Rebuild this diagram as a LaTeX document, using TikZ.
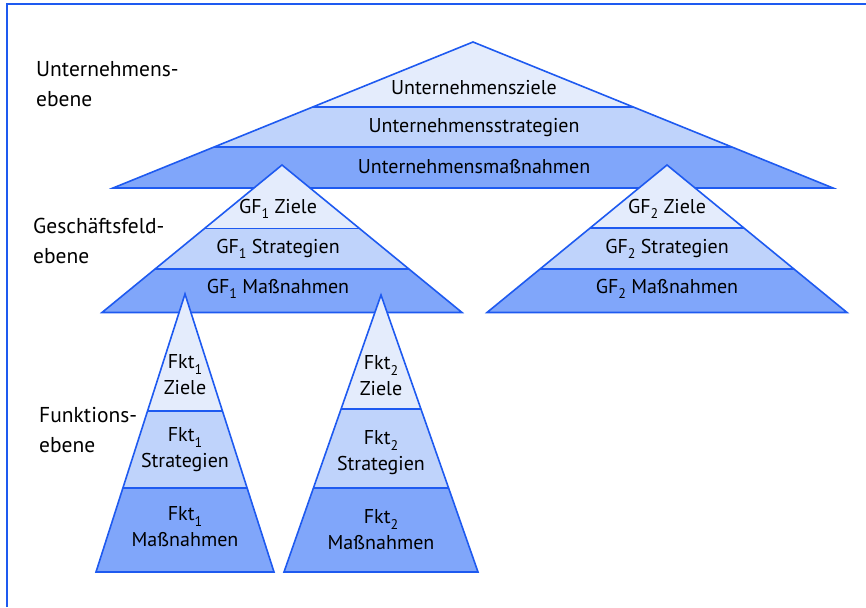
\documentclass[tikz,border=0pt]{standalone}
\usepackage{fontspec}
\setmainfont{PT Sans}
\usepackage{tikz}

\definecolor{zielblue}{RGB}{228,236,252}
\definecolor{stratblue}{RGB}{191,211,251}
\definecolor{massblue}{RGB}{128,166,250}
\definecolor{lineblue}{RGB}{30,90,240}

% lowered index, as in GF_1
\newcommand{\idx}[1]{\raisebox{-0.55ex}{\fontsize{14}{14}\selectfont #1}}

% one pyramid: #1 apex x, #2 apex y, #3 base y, #4 half base, #5 first cut, #6 second cut
\newcommand{\pyramid}[6]{
    \begin{scope}
        \clip (#1,#2) -- (#1-#4,#3) -- (#1+#4,#3) -- cycle;
        \fill[zielblue] (#1-#4,#2) rectangle (#1+#4,#5);
        \fill[stratblue] (#1-#4,#5) rectangle (#1+#4,#6);
        \fill[massblue] (#1-#4,#6) rectangle (#1+#4,#3);
        \draw[pyline] (#1-#4,#5) -- (#1+#4,#5);
        \draw[pyline] (#1-#4,#6) -- (#1+#4,#6);
    \end{scope}
    \draw[pyline] (#1,#2) -- (#1-#4,#3) -- (#1+#4,#3) -- cycle;
}

\begin{document}
\begin{tikzpicture}[x=1pt, y=-1pt,
    pyline/.style={lineblue, line width=1.6pt, line join=miter},
    layertext/.style={font=\fontsize{20}{26}\selectfont, align=center, inner sep=0pt},
    leveltext/.style={font=\fontsize{21.5}{30}\selectfont, align=left, anchor=west, inner sep=0pt}]
    \useasboundingbox (0,0) rectangle (866,607);

    % Frame
    \draw[lineblue, line width=1.8pt] (7,607) -- (7,4) -- (866,4);

    % Level labels
    \node[leveltext] (unlevel) at (36,84) {Unternehmens-\\ebene};
    \node[leveltext] (gflevel) at (33,241) {Geschäftsfeld-\\ebene};
    \node[leveltext] (fktlevel) at (39,430) {Funktions-\\ebene};

    % Unternehmen
    \pyramid{473}{42}{188}{360}{107}{147}
    \node[layertext] (unziele) at (474,88) {Unternehmensziele};
    \node[layertext] (unstrat) at (474,128) {Unternehmensstrategien};
    \node[layertext] (unmass) at (474,167) {Unternehmensmaßnahmen};

    % Geschaeftsfelder
    \pyramid{282}{165}{312.5}{180}{228.5}{269}
    \node[layertext] (gfaziele) at (278,209) {GF\idx{1} Ziele};
    \node[layertext] (gfastrat) at (278,249) {GF\idx{1} Strategien};
    \node[layertext] (gfamass) at (278,289) {GF\idx{1} Maßnahmen};

    \pyramid{667}{165}{312.5}{180}{228}{269}
    \node[layertext] (gfbziele) at (667,209) {GF\idx{2} Ziele};
    \node[layertext] (gfbstrat) at (667,249) {GF\idx{2} Strategien};
    \node[layertext] (gfbmass) at (667,289) {GF\idx{2} Maßnahmen};

    % Funktionen
    \pyramid{185}{294}{572}{89}{411}{488}
    \node[layertext] (fktaziele) at (185,375) {Fkt\idx{1}\\Ziele};
    \node[layertext] (fktastrat) at (185,450) {Fkt\idx{1}\\Strategien};
    \node[layertext] (fktamass) at (185,527) {Fkt\idx{1}\\Maßnahmen};

    \pyramid{381}{295}{572}{97}{409}{488}
    \node[layertext] (fktbziele) at (381,376) {Fkt\idx{2}\\Ziele};
    \node[layertext] (fktbstrat) at (381,453) {Fkt\idx{2}\\Strategien};
    \node[layertext] (fktbmass) at (381,530) {Fkt\idx{2}\\Maßnahmen};

\end{tikzpicture}
\end{document}
